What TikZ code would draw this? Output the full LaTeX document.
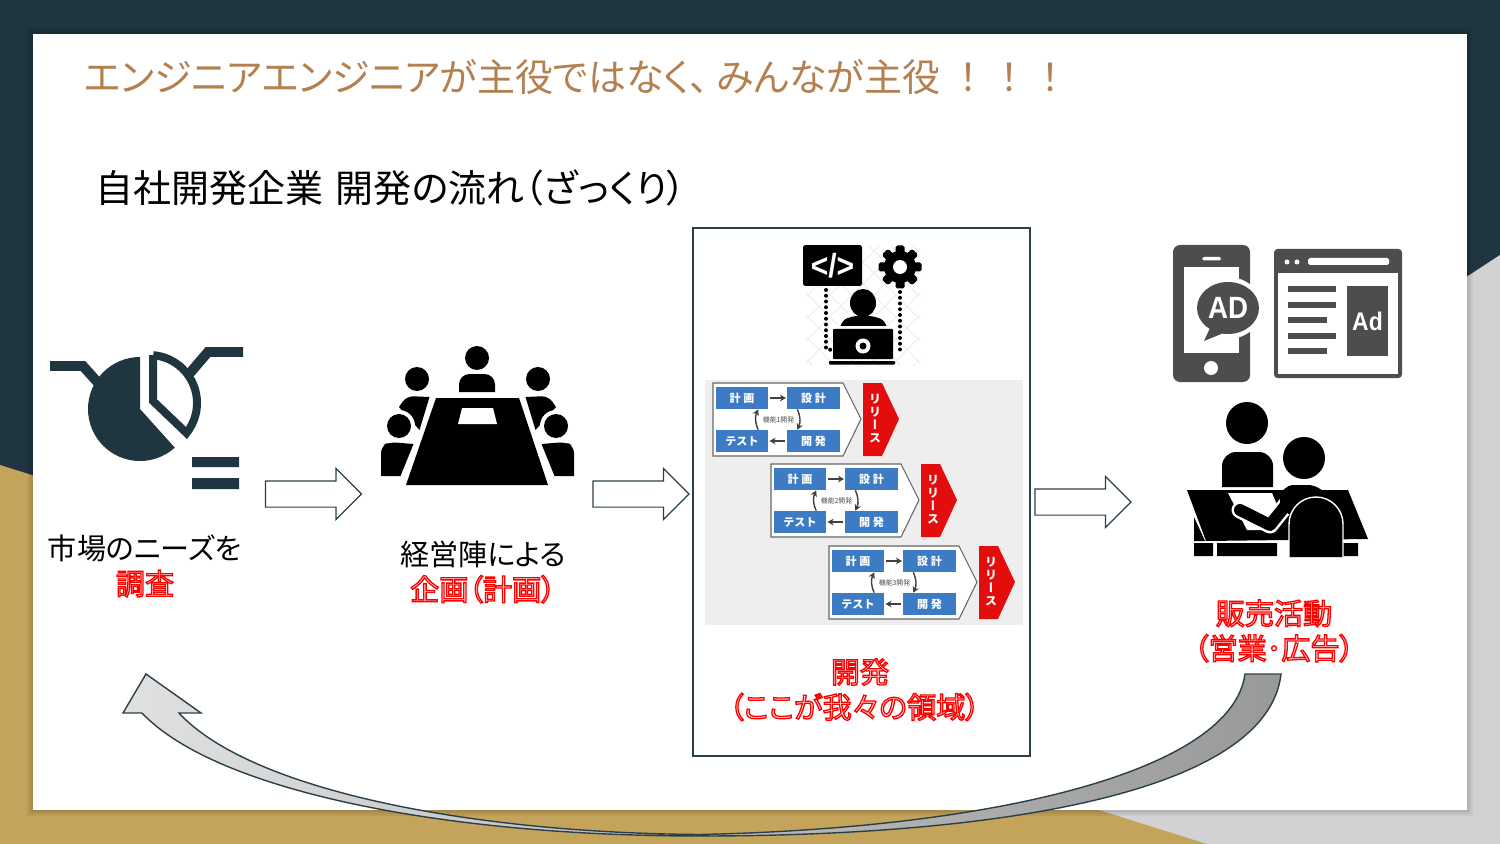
\documentclass[tikz,border=0pt]{standalone}
\usepackage{fontspec}
\setmainfont[RawFeature=+palt]{Noto Sans CJK JP}
\newfontfamily\fullfont{Noto Sans CJK JP}
\newfontfamily\redfont[FakeBold=4.5,RawFeature=+palt]{Noto Sans CJK JP}
\newfontfamily\adfont[FakeStretch=0.9]{Liberation Sans}
\newfontfamily\vertfont[RawFeature=+vert]{Noto Sans CJK JP}
\usepackage{tikz}
\usetikzlibrary{arrows.meta,shapes.arrows,calc}
\definecolor{navy}{HTML}{1F3540}
\definecolor{gold}{HTML}{C4A35A}
\definecolor{greyback}{HTML}{D2D2D2}
\definecolor{titlebrown}{HTML}{B5804F}
\definecolor{edge}{HTML}{2B3F4A}
\definecolor{sprintblue}{HTML}{3D7CC4}
\definecolor{releasered}{HTML}{E30D0D}
\definecolor{adgrey}{HTML}{4D4D4D}
\newcommand{\redtext}[1]{\special{pdf:bcolor [1 0.9 0.9] [1 0 0]}{\redfont #1}\special{pdf:ecolor}}
\newcommand{\bodysize}{\fontsize{16.57}{19.9}\selectfont}

\begin{document}
\begin{tikzpicture}[x=0.02cm,y=-0.02cm,
    label/.style={inner sep=0pt,align=center,font=\bodysize},
    hollow/.style={single arrow,draw=edge,fill=white,line width=0.7pt,inner xsep=0pt,inner ysep=0.25cm,
      minimum width=1cm,minimum height=1.92cm,single arrow head extend=0.25cm},
    sprintbox/.style={fill=sprintblue,text=white,inner sep=0pt,minimum width=1.05cm,minimum height=0.44cm,
      font=\fontsize{6.3}{7}\selectfont\fullfont\bfseries},
    flow/.style={-{Stealth[length=3.5pt,width=3.8pt]},line width=0.8pt,black!75},
    dots/.style={line width=0.08cm,line cap=round,dash pattern=on 0pt off 0.115cm}]
  \useasboundingbox (0,0) rectangle (1500,844);
  \fill[navy] (0,0) rectangle (1500,844);
  \fill[greyback] (1500,255)--(1500,844)--(600,844)--cycle;
  \fill[gold] (0,465)--(1207,844)--(0,844)--cycle;
  \foreach \d in {6,4,2}{\fill[black,opacity=0.05] (33-\d,34-\d) rectangle (1467+\d,810+\d);}
  \fill[white] (33,34) rectangle (1467,810);

  \node[anchor=west,inner sep=0pt,text=titlebrown,font=\fontsize{21.63}{24}\selectfont] (title) at (84,77)
    {エンジニアエンジニアが主役ではなく、\hspace{0.16cm}みんなが主役\hspace{0.2cm}{\fullfont ！\hspace{0.05cm}！\hspace{0.05cm}！}};
  \node[anchor=west,inner sep=0pt,font=\fontsize{21.63}{24}\selectfont] (subtitle) at (95,188)
    {自社開発企業\hspace{0.08cm} 開発の流れ（ざっくり）};

  % market research
  \fill[navy] (140,409)--(140,357) arc[start angle=-90,end angle=-312,radius=52]--cycle;
  \draw[navy,line width=0.16cm] (153.2,355.2)--(153,401)--(186.5,433) arc[start angle=38.7,end angle=-85,radius=48];
  \draw[navy,line width=0.2cm] (50,366)--(83,366)--(100,385);
  \draw[navy,line width=0.2cm] (243,352)--(208,352)--(190,373);
  \fill[navy] (192,457) rectangle (239,467) (192,478) rectangle (239,489);
  \node[label] (marketlabel) at (145,566) {市場のニーズを\\\redtext{調査}};

  % meeting
  \fill (436,398)--(519,398)--(548,485)--(406,485)--cycle;
  \fill[white] (462,408)--(493,408)--(497,424)--(458,424)--cycle;
  \fill (477,358) circle[radius=12];
  \fill (459,392) [rounded corners=6pt]--(459,374)--(495,374)[sharp corners]--(495,392)--cycle;
  \foreach \m in {1,-1}{
    \begin{scope}[shift={(477.5,0)},xscale=\m]
      \fill (-60.5,379) circle[radius=12];
      \fill (-48,397)--(-58,430)--(-78.5,407) [rounded corners=4pt]--(-71,396)[sharp corners]--cycle;
      \fill[white] (-78.5,426) circle[radius=16];
      \fill (-78.5,426) circle[radius=12];
      \fill (-96.5,476) [rounded corners=4pt]--(-96.5,446)--(-88,442)[sharp corners]--(-64,444)--(-77,476)--cycle;
    \end{scope}}
  \node[label] (meetinglabel) at (483,572) {経営陣による\\\redtext{企画（計画）}};

  % arrows between stages
  \node[hollow] (arrowa) at (307,494) {};
  \node[hollow] (arrowb) at (634.5,494) {};
  \node[hollow] (arrowc) at (1076.5,502) {};

  % development
  \draw[edge,fill=white,line width=0.8pt] (693,228) rectangle (1030,756);
  \begin{scope}
    \clip (806,245) rectangle (920,366);
    \foreach \k in {-7,...,7}{
      \draw[black!7,line width=0.5pt] (863+\k*22-60,246)--(863+\k*22+60,366);
      \draw[black!7,line width=0.5pt] (863+\k*22+60,246)--(863+\k*22-60,366);}
  \end{scope}
  \node[fill=black,rounded corners=1pt,inner sep=0pt,minimum width=1.18cm,minimum height=0.82cm,text=white,
    font=\fontsize{19}{19}\selectfont\adfont\bfseries] (codebox) at (832.5,265.5) {</>};
  \fill (900,267) circle[radius=16];
  \foreach \a in {0,45,...,315}{\fill[rotate around={\a:(900,267)},rounded corners=1pt] (895.5,245.5) rectangle (904.5,258);}
  \fill[white] (900,267) circle[radius=7];
  \draw[dots] (826,290)--(826,349)--(832,350);
  \draw[dots] (900,292)--(900,350)--(895,350);
  \fill (863,303) ellipse[x radius=13,y radius=14];
  \fill (840,328) [rounded corners=4pt]--(840,322)--(851,316)--(875,316)--(887,322)[sharp corners]--(887,328)--cycle;
  \fill[white] (831,326) rectangle (895,329);
  \fill[rounded corners=0.5pt] (833,329) rectangle (893,359);
  \fill[rounded corners=0.5pt] (829,361) rectangle (895,364.5);
  \fill[white] (863,346) circle[radius=7.5];
  \fill (863,346) circle[radius=3.5];
  \fill[black!6.5] (705,380) rectangle (1023,625);
  \foreach \n/\dx/\dy in {1/0/0,2/58/81,3/116/163}{
    \begin{scope}[shift={(\dx,\dy)}]
      \draw[black!60,fill=white,line width=0.6pt] (713,383)--(843,383)--(861,419)--(843,456)--(713,456)--cycle;
      \node[sprintbox] (plan\n) at (742,398) {計 画};
      \node[sprintbox] (design\n) at (813.5,398) {設 計};
      \node[sprintbox] (test\n) at (742,441) {テスト};
      \node[sprintbox] (dev\n) at (813.5,441) {開 発};
      \draw[flow,shorten <=1pt,shorten >=0.5pt] (plan\n)--(design\n);
      \draw[flow,shorten <=1pt,shorten >=0.5pt] (dev\n)--(test\n);
      \draw[flow] (design\n.215) to[bend left=25] (dev\n.145);
      \draw[flow] (test\n.35) to[bend left=25] (plan\n.-35);
      \node[inner sep=0pt,text=black!70,font=\fontsize{3.9}{4}\selectfont\fullfont] (feature\n) at (778.5,419.5) {機能\n 開発};
      \fill[releasered] (863,383)--(882,383)--(899,419)--(882,456)--(863,456)--cycle;
      \node[inner sep=0pt,text=white,align=center,font=\fontsize{6.8}{7.4}\selectfont\vertfont\bfseries] (release\n) at (875,419) {リ\\リ\\ー\\ス};
    \end{scope}}
  \node[label] (devlabel) at (860,672) {\redtext{開発}};
  \node[label] (devnote) at (854.5,707) {\redtext{（ここが我々の領域）}};

  % advertising
  \fill[adgrey,rounded corners=4pt] (1173,245) rectangle (1250,382);
  \fill[white] (1184,267) rectangle (1239,353);
  \fill[white,rounded corners=1pt] (1202,257) rectangle (1221,260.5);
  \fill[white] (1211,368) circle[radius=7];
  \fill[white] (1228,308) ellipse[x radius=34,y radius=31];
  \fill[adgrey] (1228,308) ellipse[x radius=31,y radius=26];
  \fill[adgrey] (1210,328)--(1204,341)--(1226,332)--cycle;
  \node[inner sep=0pt,text=white,font=\fontsize{17.5}{17.5}\selectfont\adfont\bfseries] (adbubble) at (1228,308) {AD};
  \fill[adgrey,rounded corners=2pt] (1274,249) rectangle (1402,378);
  \fill[white] (1278,273) rectangle (1398,374);
  \fill[white] (1287,262) circle[radius=2.5] (1297,262) circle[radius=2.5];
  \fill[white,rounded corners=1pt] (1308,258) rectangle (1389,265);
  \foreach \y/\xe in {289/1336,305/1336,320/1327,336/1336,351/1327}{\fill[adgrey] (1288,\y-3) rectangle (\xe,\y+3);}
  \node[fill=adgrey,inner sep=0pt,minimum width=0.82cm,minimum height=1.4cm,text=white,
    font=\fontsize{14.5}{14.5}\selectfont\adfont\bfseries] (adpanel) at (1367.5,321) {Ad};

  % sales
  \fill (1247,423) circle[radius=21];
  \fill (1222,487) [rounded corners=8pt]--(1222,452)--(1273,452)[sharp corners]--(1273,487)--cycle;
  \fill (1304,458) circle[radius=21];
  \fill (1187,490)--(1348,490)--(1368,539)--(1206,541)--cycle;
  \fill (1194,517)--(1205,541)--(1194,541)--cycle;
  \fill (1194,543) rectangle (1213,556) (1217,543) rectangle (1277,556) (1343,543) rectangle (1358,556);
  \fill[white] (1228,493)--(1272,493)--(1280,512)--(1276,530)--(1247,530)--cycle;
  \draw[white,line width=0.34cm,line cap=round,line join=round] (1240,510)--(1270,525)--(1290,500);
  \draw[line width=0.24cm,line cap=round,line join=round] (1240,510)--(1270,525)--(1290,500);
  \fill[rounded corners=8pt] (1280,515)--(1280,485)--(1322,485)--(1332,505)--(1332,515)--cycle;
  \draw[white,fill=black,line width=0.8pt] (1289,557)--(1289,524) arc[start angle=180,end angle=360,radius=27]--(1343,557);
  \node[label] (saleslabel) at (1274,631) {\redtext{販売活動}\\\redtext{（営業･広告）}};

  % returning arrow
  \shade[left color=black!12,right color=black!40,draw=edge,line width=0.8pt]
    (1281,674) .. controls (1268,790) and (1010,836) .. (700,836)
    .. controls (440,836) and (215,790) .. (142,713)
    -- (123,713) -- (146,674) -- (201,713) -- (179,713)
    .. controls (250,790) and (470,833) .. (700,834.5)
    .. controls (1000,828) and (1232,770) .. (1245,674) -- cycle;
\end{tikzpicture}
\end{document}
